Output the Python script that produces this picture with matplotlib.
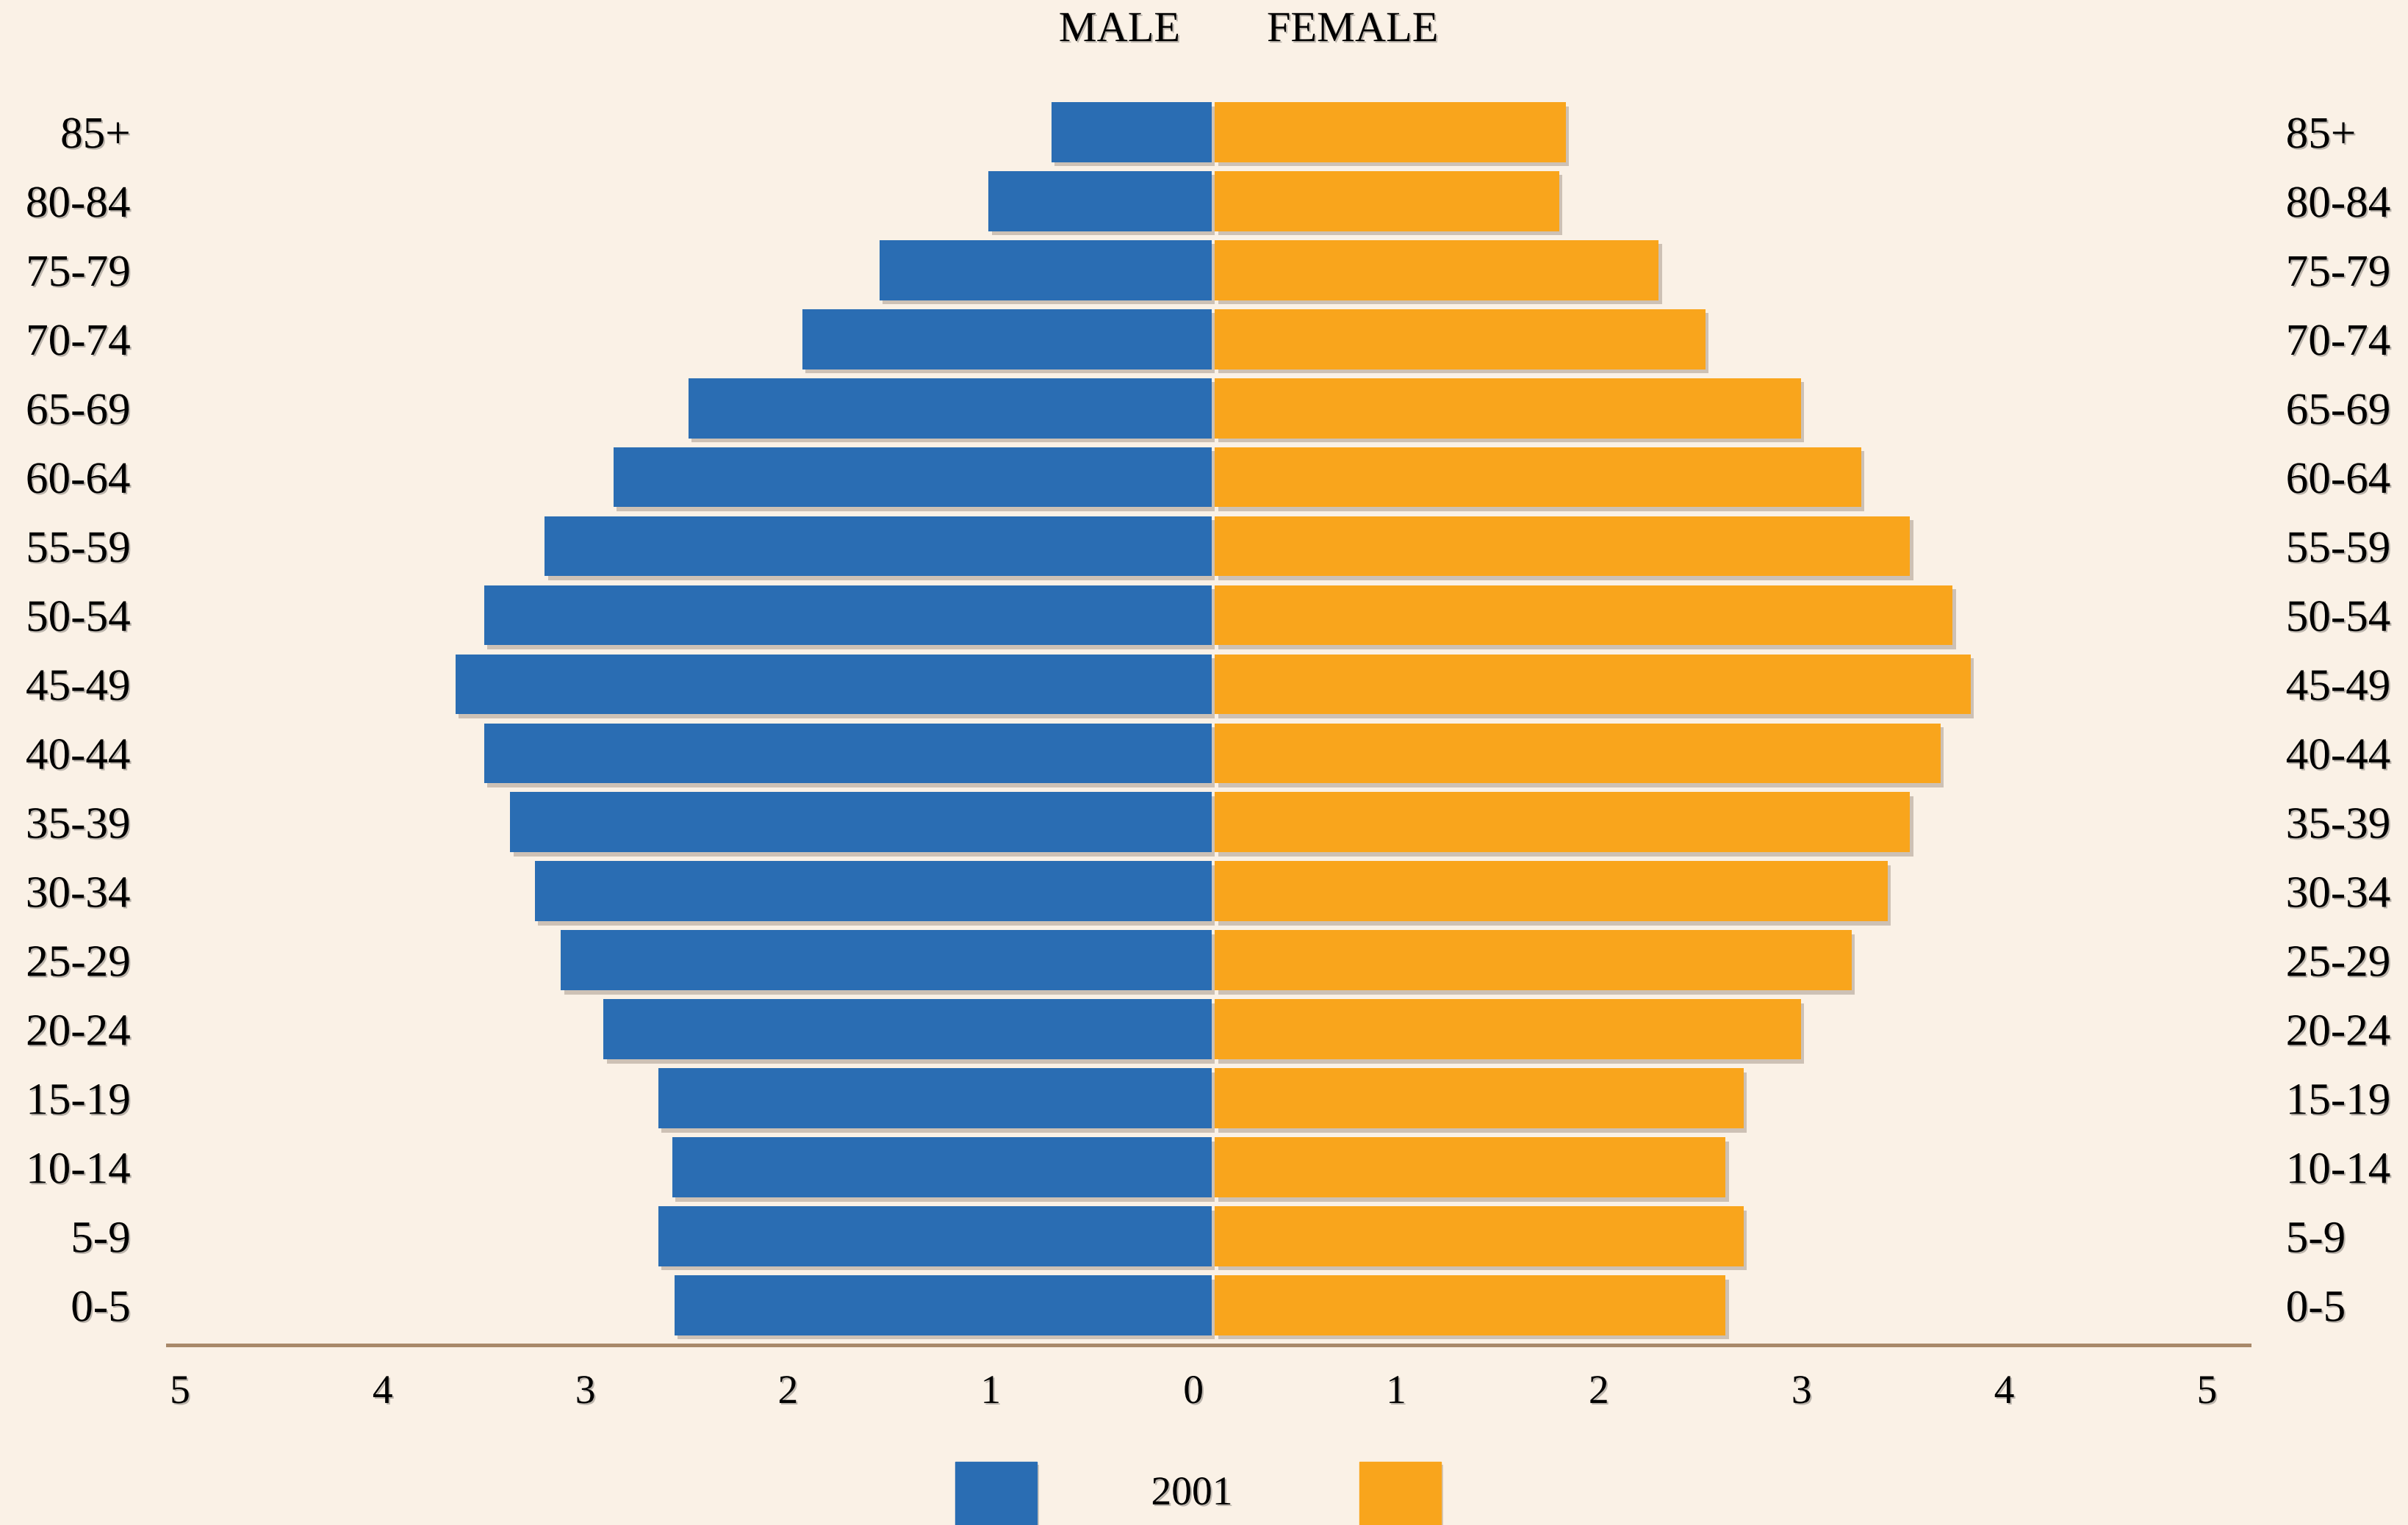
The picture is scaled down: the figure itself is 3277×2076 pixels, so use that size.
import matplotlib
matplotlib.use("Agg")
import matplotlib.pyplot as plt
import matplotlib.patheffects as pe
import matplotlib.transforms as mtransforms
from matplotlib.ticker import FuncFormatter
import numpy as np

ages = ["0-5", "5-9", "10-14", "15-19", "20-24", "25-29", "30-34", "35-39",
        "40-44", "45-49", "50-54", "55-59", "60-64", "65-69", "70-74",
        "75-79", "80-84", "85+"]
male = [2.65, 2.73, 2.66, 2.73, 3.00, 3.21, 3.34, 3.46, 3.59, 3.73,
        3.59, 3.29, 2.95, 2.58, 2.02, 1.64, 1.10, 0.79]
female = [2.52, 2.61, 2.52, 2.61, 2.89, 3.14, 3.32, 3.43, 3.58, 3.73,
          3.64, 3.43, 3.19, 2.89, 2.42, 2.19, 1.70, 1.73]
year = "2001"

BG = "#faf1e6"
BLUE = "#2a6db3"
ORANGE = "#f9a51c"
LINE = "#a8896a"
FONT = "Liberation Serif"

fig = plt.figure(figsize=(32.77, 20.76), dpi=100, facecolor=BG)
ax = fig.add_axes([0.0695, 0.118, 0.8645, 0.818])
ax.set_facecolor(BG)

y = np.arange(len(ages))
gap = 0.008
shadow = [pe.SimplePatchShadow(offset=(3, -4), shadow_rgbFace="#7a6a5a", alpha=0.35), pe.Normal()]
mb = ax.barh(y, -np.array(male), left=-gap, height=0.87, color=BLUE, zorder=3)
fb = ax.barh(y, female, left=gap, height=0.87, color=ORANGE, zorder=3)
for p in list(mb) + list(fb):
    p.set_path_effects(shadow)

ax.set_xlim(-5.16, 5.11)
ax.set_ylim(-0.575, 17.5)

for s in ["top", "left", "right"]:
    ax.spines[s].set_visible(False)
ax.spines["bottom"].set_color(LINE)
ax.spines["bottom"].set_linewidth(3.6)

ax.set_xticks(np.arange(-5, 6))
ax.xaxis.set_major_formatter(FuncFormatter(lambda v, _: f"{abs(int(round(v)))}"))
ax.tick_params(axis="x", length=0, pad=28, labelsize=40)
offset = mtransforms.ScaledTranslation(-27 / 100, 0, fig.dpi_scale_trans)
txt_shadow = [pe.withSimplePatchShadow(offset=(1.5, -1.5), shadow_rgbFace="#000000", alpha=0.25)]
for lbl in ax.get_xticklabels():
    lbl.set_transform(lbl.get_transform() + offset)
    lbl.set_fontfamily(FONT)
    lbl.set_path_effects(txt_shadow)

ax.set_yticks(y)
ax.set_yticklabels(ages)
ax.tick_params(axis="y", length=0, pad=36, labelsize=44, labelleft=True, labelright=True)
for t in ax.yaxis.get_major_ticks():
    for lbl in (t.label1, t.label2):
        lbl.set_fontfamily(FONT)
        lbl.set_fontsize(44)
        lbl.set_path_effects(txt_shadow)

fig.text(1606 / 3277, 1 - 42 / 2076, "MALE", ha="right", va="center",
         fontsize=42, family=FONT, path_effects=txt_shadow)
fig.text(1724 / 3277, 1 - 42 / 2076, "FEMALE", ha="left", va="center",
         fontsize=42, family=FONT, path_effects=txt_shadow)

# legend at the bottom
lax = fig.add_axes([0, 0, 1, 0.05])
lax.set_xlim(0, 3277)
lax.set_ylim(0, 103.8)
lax.axis("off")
sq = [pe.SimplePatchShadow(offset=(2, -3), shadow_rgbFace="#7a6a5a", alpha=0.3), pe.Normal()]
lax.add_patch(plt.Rectangle((1300, 0), 111, 86, color=BLUE, path_effects=sq))
lax.add_patch(plt.Rectangle((1850, 0), 111, 86, color=ORANGE, path_effects=sq))
lax.text(1622, 42, year, ha="center", va="center", fontsize=40, family=FONT,
         path_effects=txt_shadow)

fig.savefig("out.png", dpi=100, facecolor=BG)
